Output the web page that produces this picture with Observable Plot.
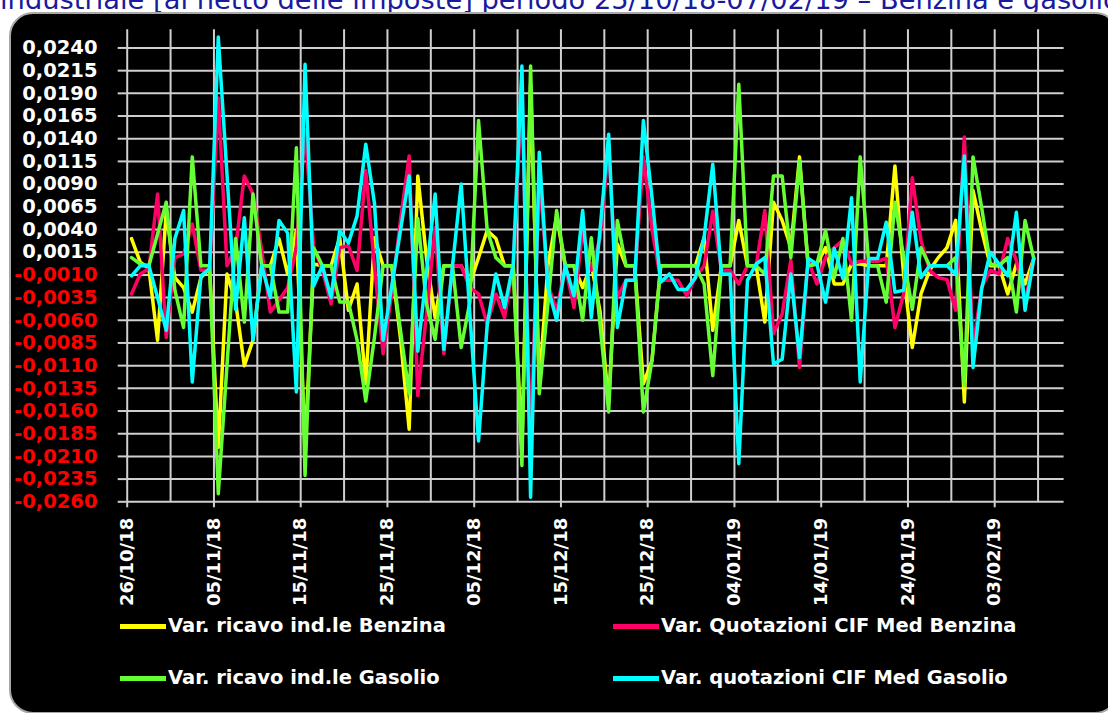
<!DOCTYPE html>
<html>
<head>
<meta charset="utf-8">
<script src="https://cdn.jsdelivr.net/npm/d3@7"></script>
<script src="https://cdn.jsdelivr.net/npm/@observablehq/plot@0.6"></script>
<style>
  html, body { margin: 0; padding: 0; background: #fff; }
  #wrap { position: relative; width: 1108px; height: 713px; overflow: hidden; background: #fff; }
  #title { position: absolute; left: 0; top: -14px; font-family: "DejaVu Sans", Verdana, sans-serif; font-size: 27.3px; line-height: 1; color: #1a1a9e; white-space: nowrap; }
  #box { position: absolute; left: 9px; top: 12px; width: 1110px; height: 702px; background: #000; border: 2px solid #a8a8a8; border-radius: 24px; box-sizing: border-box; }
  #chart { position: absolute; left: 0; top: 0; }
  .lg { position: absolute; font-family: "DejaVu Sans", Verdana, sans-serif; font-weight: bold; font-size: 19.5px; color: #fff; white-space: nowrap; line-height: 1; }
  .sw { position: absolute; height: 5px; width: 46px; }
</style>
</head>
<body>
<div id="wrap">
  <div id="title">industriale [al netto delle imposte] periodo 25/10/18-07/02/19 – Benzina e gasolio</div>
  <div id="box"></div>
  <div id="chart"></div>
  <div id="legend"></div>
</div>
<script>
// ---- data ----
const firstDay = "26/10/18";   // first daily observation (daily series to 07/02/19)
const seriesNames = [
  "Var. ricavo ind.le Benzina",
  "Var. Quotazioni CIF Med Benzina",
  "Var. ricavo ind.le Gasolio",
  "Var. quotazioni CIF Med Gasolio"
];
const benzinaRicavo = [
  0.0030, 0.0004, -0.0003, -0.0082, 0.0060, -0.0013, -0.0024, -0.0051, -0.0013, -0.0003,
  -0.0200, -0.0009, -0.0040, -0.0110, -0.0082, 0.0000, 0.0000, 0.0030, -0.0009, 0.0039,
  -0.0200, 0.0002, 0.0000, 0.0000, 0.0031, -0.0049, -0.0020, -0.0130, 0.0031, 0.0000,
  0.0000, -0.0080, -0.0180, 0.0099, 0.0009, -0.0057, 0.0000, 0.0000, 0.0000, -0.0020,
  0.0009, 0.0039, 0.0030, 0.0000, 0.0000, -0.0200, 0.0200, -0.0130, 0.0000, 0.0055,
  0.0000, 0.0000, -0.0024, 0.0002, -0.0050, -0.0150, 0.0024, 0.0000, 0.0000, -0.0130,
  -0.0104, 0.0000, 0.0000, 0.0000, 0.0000, 0.0000, 0.0031, -0.0071, 0.0000, 0.0000,
  0.0050, 0.0000, 0.0000, -0.0062, 0.0070, 0.0050, 0.0020, 0.0120, 0.0000, 0.0002,
  0.0020, -0.0020, -0.0020, 0.0002, 0.0002, 0.0000, 0.0000, 0.0000, 0.0110, -0.0010,
  -0.0090, -0.0031, -0.0005, 0.0009, 0.0020, 0.0050, -0.0150, 0.0083, 0.0039, 0.0000,
  0.0000, -0.0031, 0.0002, -0.0020, 0.0008
];
const benzinaCIF = [
  -0.0031, -0.0009, -0.0003, 0.0079, -0.0079, 0.0009, 0.0013, 0.0046, -0.0005, -0.0005,
  0.0185, 0.0000, 0.0020, 0.0099, 0.0079, 0.0017, -0.0051, -0.0038, -0.0024, 0.0020,
  0.0150, 0.0020, -0.0005, -0.0042, 0.0020, 0.0022, -0.0005, 0.0105, 0.0000, -0.0097,
  -0.0030, 0.0050, 0.0121, -0.0143, -0.0053, 0.0042, -0.0097, 0.0000, 0.0000, -0.0024,
  -0.0031, -0.0064, -0.0031, -0.0057, 0.0000, 0.0190, -0.0200, 0.0100, -0.0020, -0.0050,
  0.0000, -0.0046, 0.0039, -0.0005, 0.0030, 0.0130, -0.0035, -0.0016, -0.0016, 0.0120,
  0.0040, -0.0016, -0.0016, -0.0016, -0.0033, -0.0013, 0.0000, 0.0060, -0.0005, -0.0005,
  -0.0020, 0.0000, 0.0000, 0.0061, -0.0075, -0.0053, 0.0006, -0.0112, 0.0006, -0.0020,
  0.0009, 0.0020, 0.0028, 0.0002, 0.0005, 0.0005, 0.0005, 0.0008, -0.0068, -0.0031,
  0.0097, 0.0028, -0.0005, -0.0013, -0.0015, -0.0049, 0.0142, -0.0090, -0.0024, -0.0005,
  -0.0009, 0.0030, 0.0006, -0.0040, 0.0008
];
const gasolioRicavo = [
  0.0009, 0.0002, 0.0000, 0.0035, 0.0070, -0.0027, -0.0068, 0.0120, 0.0000, 0.0000,
  -0.0251, -0.0110, 0.0030, -0.0062, 0.0079, 0.0000, 0.0000, -0.0051, -0.0051, 0.0130,
  -0.0231, 0.0020, 0.0000, 0.0000, -0.0040, -0.0040, -0.0082, -0.0149, -0.0079, 0.0000,
  0.0000, -0.0071, -0.0141, 0.0052, -0.0042, -0.0081, 0.0000, 0.0000, -0.0090, -0.0040,
  0.0160, 0.0039, 0.0009, 0.0000, 0.0000, -0.0220, 0.0220, -0.0141, -0.0042, 0.0061,
  0.0000, 0.0000, -0.0060, 0.0031, -0.0064, -0.0161, 0.0050, 0.0000, 0.0000, -0.0161,
  -0.0104, 0.0000, 0.0000, 0.0000, 0.0000, 0.0000, -0.0020, -0.0121, 0.0000, 0.0000,
  0.0200, 0.0000, 0.0000, -0.0009, 0.0099, 0.0099, 0.0009, 0.0116, 0.0000, 0.0002,
  0.0039, -0.0013, 0.0030, -0.0060, 0.0120, 0.0000, 0.0000, -0.0040, 0.0070, 0.0010,
  -0.0048, 0.0020, 0.0000, 0.0000, 0.0000, 0.0009, -0.0132, 0.0120, 0.0064, 0.0002,
  0.0000, 0.0009, -0.0051, 0.0050, 0.0008
];
const gasolioCIF = [
  -0.0011, 0.0000, 0.0000, -0.0035, -0.0071, 0.0030, 0.0061, -0.0128, -0.0011, -0.0003,
  0.0252, 0.0101, -0.0048, 0.0053, -0.0082, 0.0000, -0.0035, 0.0050, 0.0036, -0.0139,
  0.0222, -0.0022, 0.0000, -0.0035, 0.0039, 0.0025, 0.0055, 0.0134, 0.0069, -0.0082,
  -0.0022, 0.0039, 0.0099, -0.0094, -0.0007, 0.0079, -0.0092, 0.0000, 0.0090, -0.0053,
  -0.0193, -0.0065, -0.0009, -0.0046, 0.0002, 0.0220, -0.0255, 0.0125, -0.0024, -0.0060,
  0.0000, -0.0033, 0.0061, -0.0057, 0.0039, 0.0145, -0.0068, -0.0016, -0.0016, 0.0160,
  0.0075, -0.0018, -0.0009, -0.0026, -0.0026, -0.0013, 0.0031, 0.0112, -0.0009, -0.0009,
  -0.0218, -0.0016, 0.0002, 0.0009, -0.0108, -0.0103, -0.0009, -0.0101, 0.0008, 0.0002,
  -0.0040, 0.0019, -0.0014, 0.0075, -0.0128, 0.0008, 0.0008, 0.0048, -0.0029, -0.0027,
  0.0059, -0.0013, 0.0000, 0.0000, 0.0000, -0.0009, 0.0121, -0.0112, -0.0025, 0.0015,
  0.0002, -0.0011, 0.0059, -0.0049, 0.0008
];
const xTickLabels = ["26/10/18","05/11/18","15/11/18","25/11/18","05/12/18","15/12/18",
                     "25/12/18","04/01/19","14/01/19","24/01/19","03/02/19"];
const yTickValues = [0.0240, 0.0215, 0.0190, 0.0165, 0.0140, 0.0115, 0.0090, 0.0065, 0.0040, 0.0015,
                     -0.0010, -0.0035, -0.0060, -0.0085, -0.0110, -0.0135, -0.0160, -0.0185,
                     -0.0210, -0.0235, -0.0260];
const axisEnd = "11/02/19";

// ---- styles ----
const seriesColors = ["#ffff00", "#ff0066", "#66ff33", "#00ffff"];

// ---- build ----
const parse = d3.utcParse("%d/%m/%y");
const fmtDate = d3.utcFormat("%d/%m/%y");
const start = parse(firstDay);
const end = parse(axisEnd);
const allSeries = [benzinaRicavo, benzinaCIF, gasolioRicavo, gasolioCIF];
const rows = [];
allSeries.forEach((vals, s) => {
  vals.forEach((v, i) => {
    rows.push({series: seriesNames[s], date: new Date(start.getTime() + (i + 0.5) * 864e5), value: v});
  });
});
const xTicks = xTickLabels.map(parse);
const grid5 = d3.range(0, 106, 5).map(k => d3.utcDay.offset(start, k));
const fmtY = v => (v < 0 ? "-" : "") + Math.abs(v).toFixed(4).replace(".", ",");
const posTicks = yTickValues.filter(v => v > 0);
const negTicks = yTickValues.filter(v => v < 0);
const gridColor = "#cfcfcf";

const chart = Plot.plot({
  width: 1108,
  height: 610,
  marginLeft: 126.7,
  marginRight: 44.4,
  marginTop: 29.3,
  marginBottom: 108.7,
  style: {background: "transparent", color: "#fff", fontFamily: "DejaVu Sans, Verdana, sans-serif", overflow: "visible"},
  x: {type: "utc", domain: [start, end]},
  y: {domain: [-0.026, 0.026]},
  marks: [
    Plot.gridX(grid5, {stroke: gridColor, strokeOpacity: 1, strokeWidth: 2}),
    Plot.gridY(yTickValues, {stroke: gridColor, strokeOpacity: 1, strokeWidth: 2}),
    Plot.axisY(posTicks, {tickSize: 9, tickPadding: 20.7, tickFormat: fmtY, stroke: gridColor, strokeWidth: 2, fill: "#ffffff", fontSize: 19.5, fontWeight: "bold", label: null}),
    Plot.axisY(negTicks, {tickSize: 9, tickPadding: 20.7, tickFormat: fmtY, stroke: gridColor, strokeWidth: 2, fill: "#ff0000", fontSize: 19.5, fontWeight: "bold", label: null}),
    Plot.axisX(xTicks, {tickSize: 6, tickPadding: 10, tickRotate: -90, tickFormat: fmtDate, stroke: gridColor, strokeWidth: 2, fill: "#ffffff", fontSize: 18, fontWeight: "bold", label: null}),
    ...seriesNames.map((name, s) =>
      Plot.line(rows.filter(r => r.series === name), {
        x: "date", y: "value", stroke: seriesColors[s], strokeWidth: 3.5,
        strokeLinejoin: "round", strokeLinecap: "round", curve: "linear"
      })
    )
  ]
});
document.getElementById("chart").appendChild(chart);

// ---- legend ----
const legendPos = [[120, 626], [613, 626], [120, 678], [613, 678]];
const lg = document.getElementById("legend");
seriesNames.forEach((name, s) => {
  const [lx, ly] = legendPos[s];
  const sw = document.createElement("div");
  sw.className = "sw";
  sw.style.left = lx + "px";
  sw.style.top = (ly - 2.5) + "px";
  sw.style.background = seriesColors[s];
  lg.appendChild(sw);
  const t = document.createElement("div");
  t.className = "lg";
  t.textContent = name;
  t.style.left = (lx + 48) + "px";
  t.style.top = (ly - 10) + "px";
  lg.appendChild(t);
});
</script>
</body>
</html>
